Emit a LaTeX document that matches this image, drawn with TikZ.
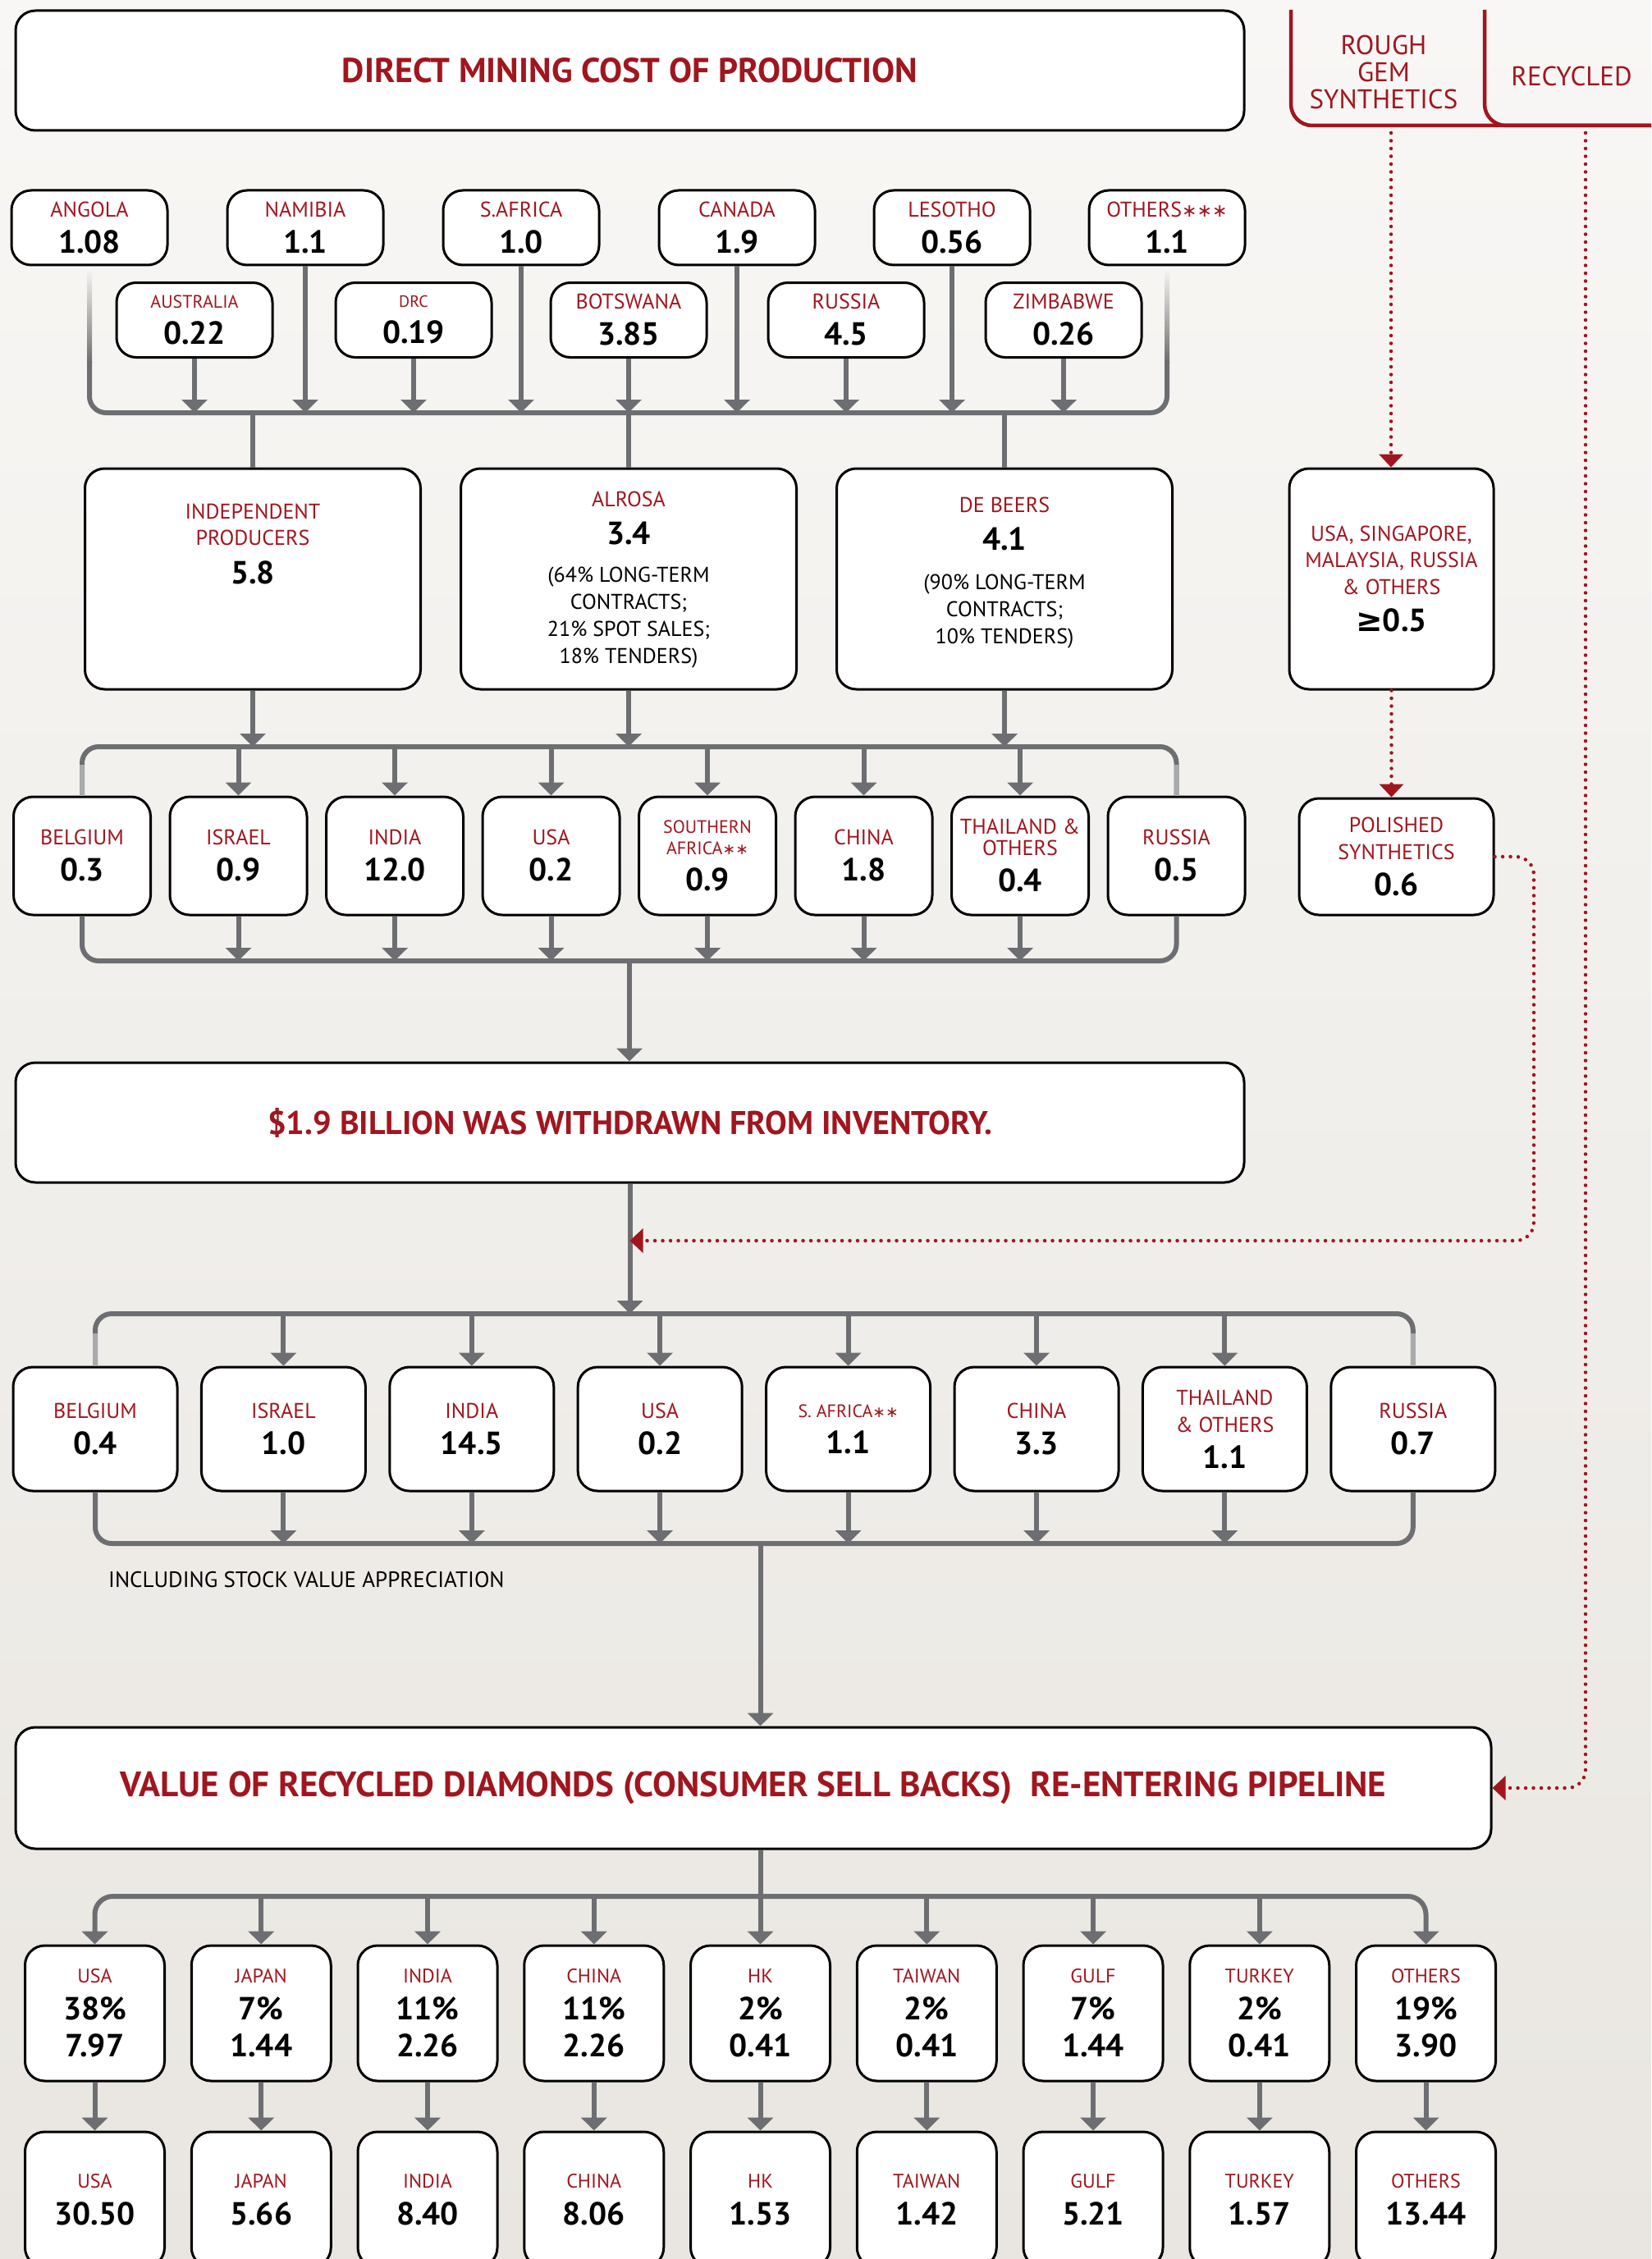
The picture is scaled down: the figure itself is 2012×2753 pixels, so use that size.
\documentclass[tikz,border=0pt]{standalone}
\usepackage{fontspec}
\setmainfont{PT Sans}
\newfontfamily\dejavu{DejaVu Sans}
\usepackage{xcolor}
\usepackage{tikz}
\usetikzlibrary{arrows.meta,calc}
\definecolor{dred}{HTML}{A0161F}
\definecolor{lgray}{HTML}{6D6E71}
\definecolor{fgray}{HTML}{A9AAAC}
\definecolor{bgtop}{HTML}{F8F7F5}
\definecolor{bgbot}{HTML}{E9E6E1}
\newcommand{\cval}[1]{{\color{black}\bfseries\fontsize{39}{45}\selectfont #1}}
\newcommand{\cnote}[1]{{\color{black}#1}}
\newcommand{\csm}[1]{{\fontsize{22}{26}\selectfont #1}}
\newcommand{\cstar}[1]{{\dejavu\fontsize{0.85em}{1em}\selectfont #1}}

\begin{document}
\begin{tikzpicture}[x=1pt,y=-1pt,
    box/.style={draw=black, line width=3pt, fill=white, rounded corners=24pt, inner sep=0pt, align=center, text=dred, font=\fontsize{26}{44}\selectfont},
    bigbox/.style={box, minimum width=1497pt, minimum height=146pt, font=\bfseries\fontsize{42}{48}\selectfont},
    mine/.style={box, minimum width=190pt, minimum height=91pt},
    prod/.style={box, minimum width=409pt, minimum height=269pt},
    cutone/.style={box, minimum width=167pt, minimum height=144pt},
    cuttwo/.style={box, minimum width=200pt, minimum height=151pt},
    sell/.style={box, minimum width=170pt, minimum height=165pt, font=\fontsize{24}{45}\selectfont},
    ptext/.style={anchor=north, inner sep=0pt, align=center, text=dred, font=\fontsize{26}{33}\selectfont},
    line/.style={draw=lgray, line width=6pt},
    fline/.style={draw=fgray, line width=6pt},
    arr/.style={line, -{Triangle[length=16pt,width=31pt]}},
    reddot/.style={draw=dred, line width=4.5pt, line cap=round, dash pattern=on 0pt off 9.5pt, rounded corners=22pt, -{Triangle[length=16pt,width=29pt]}},
    tab/.style={draw=dred, line width=4.5pt, rounded corners=26pt}]
\useasboundingbox (0,0) rectangle (2012,2753);
\clip (0,0) rectangle (2012,2753);
\shade[top color=bgtop, bottom color=bgbot] (0,0) rectangle (2012,2753);

\draw[tab] (1573,12) |- (2012,153);
\draw[tab] (1809,12) |- (2012,153);
\node[text=dred, align=center, font=\fontsize{33}{33}\selectfont] (rough) at (1686,88) {ROUGH\\GEM\\SYNTHETICS};
\node[text=dred, font=\fontsize{33}{33}\selectfont] (recyc) at (1915,93) {RECYCLED};
\coordinate (roughfoot) at (1695,162);
\coordinate (recfoot) at (1932,162);

\node[bigbox] (cost) at (767.5,86) {DIRECT MINING COST OF PRODUCTION};

\node[mine] (ango) at (109,277.5) {ANGOLA\\\cval{1.08}};
\node[mine] (nami) at (372,277.5) {NAMIBIA\\\cval{1.1}};
\node[mine] (safr) at (635,277.5) {S.AFRICA\\\cval{1.0}};
\node[mine] (cana) at (898,277.5) {CANADA\\\cval{1.9}};
\node[mine] (leso) at (1160,277.5) {LESOTHO\\\cval{0.56}};
\node[mine] (othr) at (1422,277.5) {OTHERS\cstar{∗∗∗}\\\cval{1.1}};
\node[mine] (aust) at (237,390) {\csm{AUSTRALIA}\\\cval{0.22}};
\node[mine] (drc) at (504,390) {{\fontsize{20}{24}\selectfont DRC}\\\cval{0.19}};
\node[mine] (bots) at (766,390) {BOTSWANA\\\cval{3.85}};
\node[mine] (russ) at (1031,390) {RUSSIA\\\cval{4.5}};
\node[mine] (zimb) at (1296,390) {ZIMBABWE\\\cval{0.26}};

\coordinate (mbus) at (767,503);
\shade[top color=bgtop, bottom color=lgray] ($(ango.south)+(-3,2)$) rectangle ($(ango.south |- 0,442)+(3,0)$);
\shade[top color=bgtop, bottom color=lgray] ($(othr.south)+(-3,2)$) rectangle ($(othr.south |- 0,442)+(3,0)$);
\draw[line, rounded corners=20pt] (ango.south |- 0,440) |- (mbus) -| (othr.south |- 0,440);
\draw[arr] (aust.south) -- (aust.south |- mbus);
\draw[arr] (nami.south) -- (nami.south |- mbus);
\draw[arr] (drc.south) -- (drc.south |- mbus);
\draw[arr] (safr.south) -- (safr.south |- mbus);
\draw[arr] (bots.south) -- (bots.south |- mbus);
\draw[arr] (cana.south) -- (cana.south |- mbus);
\draw[arr] (russ.south) -- (russ.south |- mbus);
\draw[arr] (leso.south) -- (leso.south |- mbus);
\draw[arr] (zimb.south) -- (zimb.south |- mbus);

\node[prod] (indp) at (308,705.5) {};
\node[prod] (alro) at (766,705.5) {};
\node[prod] (debe) at (1224,705.5) {};
\node[ptext, font=\fontsize{26}{32}\selectfont] (indt) at (308,614) {INDEPENDENT\\PRODUCERS\\[14.5pt]\cval{5.8}};
\node[ptext] (alrt) at (766,599) {ALROSA\\[12.5pt]\cval{3.4}\\[13.5pt]\cnote{(64\% LONG-TERM}\\\cnote{CONTRACTS;}\\\cnote{21\% SPOT SALES;}\\\cnote{18\% TENDERS)}};
\node[ptext] (debt) at (1224,606) {DE BEERS\\[12.5pt]\cval{4.1}\\[15.5pt]\cnote{(90\% LONG-TERM}\\\cnote{CONTRACTS;}\\\cnote{10\% TENDERS)}};
\draw[line] (indp.north |- mbus) -- (indp.north);
\draw[line] (alro.north |- mbus) -- (alro.north);
\draw[line] (debe.north |- mbus) -- (debe.north);

\node[box, minimum width=249pt, minimum height=269pt, font=\fontsize{26}{32.5}\selectfont] (syn) at (1695.5,705.5) {USA, SINGAPORE,\\MALAYSIA, RUSSIA\\\& OTHERS\\[13pt]\cval{{\dejavu ≥}0.5}};
\node[box, minimum width=237pt, minimum height=142pt, font=\fontsize{26}{33}\selectfont] (pol) at (1701.5,1044) {POLISHED\\SYNTHETICS\\[11.5pt]\cval{0.6}};
\draw[reddot] (roughfoot) -- (syn.north -| roughfoot);
\draw[reddot] (syn.south) -- (syn.south |- pol.north);

\node[cutone] (cbel) at (100,1043) {BELGIUM\\\cval{0.3}};
\node[cutone] (cisr) at (290.5,1043) {ISRAEL\\\cval{0.9}};
\node[cutone] (cind) at (481,1043) {INDIA\\\cval{12.0}};
\node[cutone] (cusa) at (671.5,1043) {USA\\\cval{0.2}};
\node[cutone] (csaf) at (862,1043) {\csm{SOUTHERN}\\[-18pt]\csm{AFRICA\cstar{∗∗}}\\\cval{0.9}};
\node[cutone] (cchi) at (1052.5,1043) {CHINA\\\cval{1.8}};
\node[cutone] (ctha) at (1243,1043) {THAILAND \&\\[-18pt]OTHERS\\\cval{0.4}};
\node[cutone] (crus) at (1433.5,1043) {RUSSIA\\\cval{0.5}};

\coordinate (ctop) at (767,910);
\coordinate (cbot) at (767,1171);
\draw[arr] (indp.south) -- (indp.south |- ctop);
\draw[arr] (alro.south) -- (alro.south |- ctop);
\draw[arr] (debe.south) -- (debe.south |- ctop);
\draw[line, rounded corners=20pt] (cbel.north) |- (ctop) -| (crus.north);
\draw[fline] (cbel.north) -- ++(0,-38);
\draw[fline] (crus.north) -- ++(0,-38);
\draw[arr] (cisr.north |- ctop) -- (cisr.north);
\draw[arr] (cind.north |- ctop) -- (cind.north);
\draw[arr] (cusa.north |- ctop) -- (cusa.north);
\draw[arr] (csaf.north |- ctop) -- (csaf.north);
\draw[arr] (cchi.north |- ctop) -- (cchi.north);
\draw[arr] (ctha.north |- ctop) -- (ctha.north);
\draw[line, rounded corners=20pt] (cbel.south) |- (cbot) -| (crus.south);
\draw[arr] (cisr.south) -- (cisr.south |- cbot);
\draw[arr] (cind.south) -- (cind.south |- cbot);
\draw[arr] (cusa.south) -- (cusa.south |- cbot);
\draw[arr] (csaf.south) -- (csaf.south |- cbot);
\draw[arr] (cchi.south) -- (cchi.south |- cbot);
\draw[arr] (ctha.south) -- (ctha.south |- cbot);

\node[bigbox, font=\bfseries\fontsize{40}{46}\selectfont] (inv) at (767.5,1368) {\$1.9 BILLION WAS WITHDRAWN FROM INVENTORY.};
\draw[arr] (cbot) -- (cbot |- inv.north);

\node[cuttwo] (tbel) at (116,1741.5) {BELGIUM\\\cval{0.4}};
\node[cuttwo] (tisr) at (345.4,1741.5) {ISRAEL\\\cval{1.0}};
\node[cuttwo] (tind) at (574.8,1741.5) {INDIA\\\cval{14.5}};
\node[cuttwo] (tusa) at (804.2,1741.5) {USA\\\cval{0.2}};
\node[cuttwo] (tsaf) at (1033.6,1741.5) {\csm{S. AFRICA\cstar{∗∗}}\\\cval{1.1}};
\node[cuttwo] (tchi) at (1263,1741.5) {CHINA\\\cval{3.3}};
\node[cuttwo] (ttha) at (1492.4,1741.5) {THAILAND\\[-11pt]\& OTHERS\\\cval{1.1}};
\node[cuttwo] (trus) at (1721.8,1741.5) {RUSSIA\\\cval{0.7}};

\coordinate (ttop) at (767.5,1601);
\coordinate (tbot) at (926.5,1881);
\coordinate (polturn) at (1869,1512);
\draw[arr] (inv.south) -- (ttop);
\draw[reddot] (pol.east) -| (polturn) -- (inv.south |- polturn);
\draw[line, rounded corners=20pt] (tbel.north) |- (ttop) -| (trus.north);
\draw[fline] (tbel.north) -- ++(0,-40);
\draw[fline] (trus.north) -- ++(0,-40);
\draw[arr] (tisr.north |- ttop) -- (tisr.north);
\draw[arr] (tind.north |- ttop) -- (tind.north);
\draw[arr] (tusa.north |- ttop) -- (tusa.north);
\draw[arr] (tsaf.north |- ttop) -- (tsaf.north);
\draw[arr] (tchi.north |- ttop) -- (tchi.north);
\draw[arr] (ttha.north |- ttop) -- (ttha.north);
\draw[line, rounded corners=20pt] (tbel.south) |- (tbot) -| (trus.south);
\draw[arr] (tisr.south) -- (tisr.south |- tbot);
\draw[arr] (tind.south) -- (tind.south |- tbot);
\draw[arr] (tusa.south) -- (tusa.south |- tbot);
\draw[arr] (tsaf.south) -- (tsaf.south |- tbot);
\draw[arr] (tchi.south) -- (tchi.south |- tbot);
\draw[arr] (ttha.south) -- (ttha.south |- tbot);
\node[anchor=west, inner sep=0pt, font=\fontsize{27}{30}\selectfont] (incl) at (132,1925) {INCLUDING STOCK VALUE APPRECIATION};

\node[bigbox, minimum width=1798pt, minimum height=148pt, font=\bfseries\fontsize{43}{48}\selectfont] (rdia) at (918,2179) {VALUE OF RECYCLED DIAMONDS (CONSUMER SELL BACKS)\ \ RE-ENTERING PIPELINE};
\draw[arr] (tbot) -- (tbot |- rdia.north);
\draw[reddot] (recfoot) |- (rdia.east);

\node[sell] (rusa) at (115.5,2453.5) {USA\\\cval{38\%}\\\cval{7.97}};
\node[sell] (rjap) at (318.25,2453.5) {JAPAN\\\cval{7\%}\\\cval{1.44}};
\node[sell] (rind) at (521,2453.5) {INDIA\\\cval{11\%}\\\cval{2.26}};
\node[sell] (rchi) at (723.75,2453.5) {CHINA\\\cval{11\%}\\\cval{2.26}};
\node[sell] (rhk) at (926.5,2453.5) {HK\\\cval{2\%}\\\cval{0.41}};
\node[sell] (rtai) at (1129.25,2453.5) {TAIWAN\\\cval{2\%}\\\cval{0.41}};
\node[sell] (rgul) at (1332,2453.5) {GULF\\\cval{7\%}\\\cval{1.44}};
\node[sell] (rtur) at (1534.75,2453.5) {TURKEY\\\cval{2\%}\\\cval{0.41}};
\node[sell] (roth) at (1737.5,2453.5) {OTHERS\\\cval{19\%}\\\cval{3.90}};

\coordinate (rtop) at (926.5,2311);
\draw[arr] (rhk.north |- rdia.south) -- (rhk.north);
\draw[arr, rounded corners=22pt] (rtop) -| (rusa.north);
\draw[arr, rounded corners=22pt] (rtop) -| (roth.north);
\draw[arr] (rjap.north |- rtop) -- (rjap.north);
\draw[arr] (rind.north |- rtop) -- (rind.north);
\draw[arr] (rchi.north |- rtop) -- (rchi.north);
\draw[arr] (rtai.north |- rtop) -- (rtai.north);
\draw[arr] (rgul.north |- rtop) -- (rgul.north);
\draw[arr] (rtur.north |- rtop) -- (rtur.north);

\node[sell] (pusa) at (115.5,2680.5) {USA\\\cval{30.50}};
\node[sell] (pjap) at (318.25,2680.5) {JAPAN\\\cval{5.66}};
\node[sell] (pind) at (521,2680.5) {INDIA\\\cval{8.40}};
\node[sell] (pchi) at (723.75,2680.5) {CHINA\\\cval{8.06}};
\node[sell] (phk) at (926.5,2680.5) {HK\\\cval{1.53}};
\node[sell] (ptai) at (1129.25,2680.5) {TAIWAN\\\cval{1.42}};
\node[sell] (pgul) at (1332,2680.5) {GULF\\\cval{5.21}};
\node[sell] (ptur) at (1534.75,2680.5) {TURKEY\\\cval{1.57}};
\node[sell] (poth) at (1737.5,2680.5) {OTHERS\\\cval{13.44}};
\draw[arr] (rusa.south) -- (pusa.north);
\draw[arr] (rjap.south) -- (pjap.north);
\draw[arr] (rind.south) -- (pind.north);
\draw[arr] (rchi.south) -- (pchi.north);
\draw[arr] (rhk.south) -- (phk.north);
\draw[arr] (rtai.south) -- (ptai.north);
\draw[arr] (rgul.south) -- (pgul.north);
\draw[arr] (rtur.south) -- (ptur.north);
\draw[arr] (roth.south) -- (poth.north);
\end{tikzpicture}
\end{document}
